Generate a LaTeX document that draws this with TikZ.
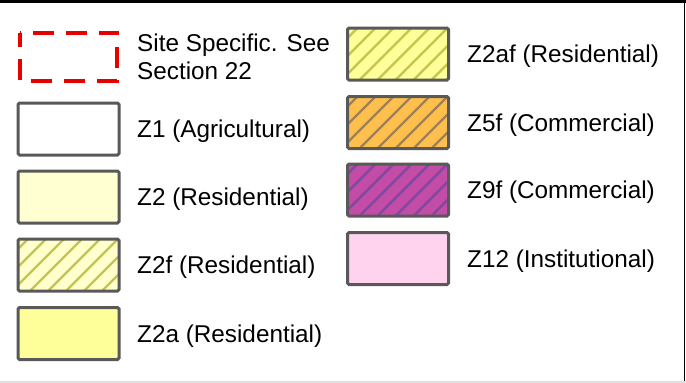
\documentclass[tikz,border=0pt]{standalone}
\usepackage{fontspec}
\setmainfont{Liberation Sans}
\usetikzlibrary{positioning}
\definecolor{edgegray}{HTML}{595959}
\definecolor{sitered}{HTML}{E60000}
\definecolor{zonetwo}{HTML}{FFFFD2}
\definecolor{zonetwof}{HTML}{FFFFCC}
\definecolor{zonetwoa}{HTML}{FFFF99}
\definecolor{zonefive}{HTML}{FFBF4C}
\definecolor{zonenine}{HTML}{C24CA6}
\definecolor{zonetwelve}{HTML}{FFD2EE}
\definecolor{olivehatch}{HTML}{C4C44E}
\definecolor{brownhatch}{HTML}{A08050}
\definecolor{purplehatch}{HTML}{7E48A0}
\tikzset{
  x=1pt, y=-1pt,
  swatch/.style={draw=edgegray, line width=3pt, rounded corners=1.5pt,
    minimum width=101pt, minimum height=52pt, inner sep=0pt},
  sitebox/.style={minimum width=97pt, minimum height=48pt, inner sep=0pt},
  siteline/.style={draw=sitered, line width=4.3pt, dash pattern=on 21pt off 12pt,
    dash phase=20pt},
  hatched/.style={path picture={
      \foreach \k in {-60,-42,...,110}
        \draw[#1, line width=2.4pt]
          ([xshift=\k pt]path picture bounding box.south west) -- ++(70pt,70pt);
    }},
  label/.style={anchor=base west, inner sep=0pt, align=left,
    font=\fontsize{24.3}{28}\selectfont}
}
\begin{document}
\begin{tikzpicture}
  \useasboundingbox (0,0) rectangle (686,383);
  % frame
  \draw[black, line width=3pt] (0,1.5) -- (686,1.5);
  \draw[black, line width=1.5pt] (684.5,0) -- (684.5,383);
  \draw[black!12, line width=2pt] (0,382) -- (686,382);

  % left column
  \node[sitebox] (site) at (68.5,57) {};
  \draw[siteline] (site.north west) -- (site.north east) -- (site.south east)
    -- (site.south west) -- cycle;
  \node[swatch, fill=white] (zone1) at (68.5,129) {};
  \node[swatch, fill=zonetwo] (zone2) at (68.5,197) {};
  \node[swatch, fill=zonetwof, hatched=olivehatch] (zone2f) at (68.5,265) {};
  \node[swatch, fill=zonetwoa] (zone2a) at (68.5,333.5) {};

  % right column
  \node[swatch, fill=zonetwoa, hatched=olivehatch] (zone2af) at (398,54) {};
  \node[swatch, fill=zonefive, hatched=brownhatch] (zone5f) at (398,122.5) {};
  \node[swatch, fill=zonenine, hatched=purplehatch] (zone9f) at (398,190) {};
  \node[swatch, fill=zonetwelve] (zone12) at (398,258.5) {};

  % labels
  \node[label] (site-t) at (137,79) {Site Specific. See\\Section 22};
  \node[label] (zone1-t) at (137,137.5) {Z1 (Agricultural)};
  \node[label] (zone2-t) at (137,205.5) {Z2 (Residential)};
  \node[label] (zone2f-t) at (137,273.5) {Z2f (Residential)};
  \node[label] (zone2a-t) at (137,342) {Z2a (Residential)};
  \node[label] (zone2af-t) at (467,62.5) {Z2af (Residential)};
  \node[label] (zone5f-t) at (467,131) {Z5f (Commercial)};
  \node[label] (zone9f-t) at (467,198.5) {Z9f (Commercial)};
  \node[label] (zone12-t) at (467,267) {Z12 (Institutional)};
\end{tikzpicture}
\end{document}
